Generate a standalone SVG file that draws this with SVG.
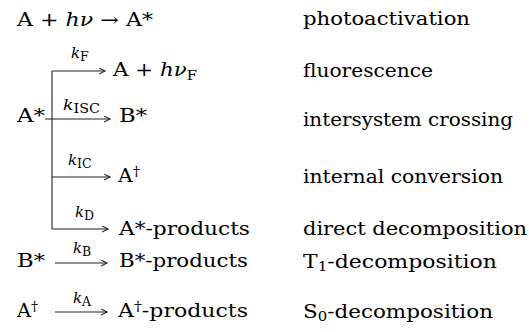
<svg xmlns="http://www.w3.org/2000/svg" width="529" height="332" viewBox="0 0 529 332">
<style>
text{font-family:"DejaVu Serif","Liberation Serif",serif;font-size:18px;fill:#000}
.k{font-size:15px}
.i{font-style:italic}
.sub{font-size:12.5px}
.dg{font-size:13px}
.ln{stroke:#222;stroke-width:1.1;fill:none}
</style>
<defs>
<marker id="ah" markerWidth="8" markerHeight="8" refX="6" refY="3" orient="auto" markerUnits="userSpaceOnUse">
<path d="M0,0 L6,3 L0,6" fill="none" stroke="#222" stroke-width="1.1"/>
</marker>
</defs>
<rect width="529" height="332" fill="#fff"/>
<g id="connectors">
<path class="ln" d="M52,71 V229"/>
<path class="ln" d="M52,71 H105" marker-end="url(#ah)"/>
<path class="ln" d="M45,119 H110" marker-end="url(#ah)"/>
<path class="ln" d="M52,177 H110" marker-end="url(#ah)"/>
<path class="ln" d="M52,229 H108" marker-end="url(#ah)"/>
<path class="ln" d="M55,263 H107" marker-end="url(#ah)"/>
<path class="ln" d="M55,312 H107" marker-end="url(#ah)"/>
</g>
<g id="labels">
<text class="k" x="71" y="58"><tspan class="i">k</tspan><tspan class="sub" dy="3">F</tspan></text>
<text class="k" x="63" y="110" textLength="37" lengthAdjust="spacingAndGlyphs"><tspan class="i">k</tspan><tspan class="sub" dy="3">ISC</tspan></text>
<text class="k" x="68" y="165"><tspan class="i">k</tspan><tspan class="sub" dy="3">IC</tspan></text>
<text class="k" x="75" y="217"><tspan class="i">k</tspan><tspan class="sub" dy="3">D</tspan></text>
<text class="k" x="73" y="253"><tspan class="i">k</tspan><tspan class="sub" dy="3">B</tspan></text>
<text class="k" x="73" y="303"><tspan class="i">k</tspan><tspan class="sub" dy="3">A</tspan></text>
</g>
<g id="n-photo"><text x="17" y="26" textLength="136" lengthAdjust="spacingAndGlyphs">A + <tspan class="i">hν</tspan> → A*</text></g>
<g id="n-Astar"><text x="17" y="122" textLength="28" lengthAdjust="spacingAndGlyphs">A*</text></g>
<g id="n-fluor-prod"><text x="113" y="76" textLength="84" lengthAdjust="spacingAndGlyphs">A + <tspan class="i">hν</tspan><tspan class="sub" dy="4">F</tspan></text></g>
<g id="n-Bstar"><text x="119" y="122" textLength="28" lengthAdjust="spacingAndGlyphs">B*</text></g>
<g id="n-Adagger"><text x="118" y="182" textLength="22" lengthAdjust="spacingAndGlyphs">A<tspan class="dg" dy="-6">†</tspan></text></g>
<g id="n-Aprod"><text x="119" y="235" textLength="131" lengthAdjust="spacingAndGlyphs">A*-products</text></g>
<g id="n-B"><text x="17" y="267" textLength="28" lengthAdjust="spacingAndGlyphs">B*</text></g>
<g id="n-Bprod"><text x="119" y="267" textLength="129" lengthAdjust="spacingAndGlyphs">B*-products</text></g>
<g id="n-A2"><text x="17" y="317" textLength="21" lengthAdjust="spacingAndGlyphs">A<tspan class="dg" dy="-6">†</tspan></text></g>
<g id="n-A2prod"><text x="118" y="317" textLength="130" lengthAdjust="spacingAndGlyphs">A<tspan class="dg" dy="-6">†</tspan><tspan dy="6">-products</tspan></text></g>
<g id="descriptions">
<text x="303" y="25" textLength="167" lengthAdjust="spacingAndGlyphs">photoactivation</text>
<text x="303" y="77" textLength="130" lengthAdjust="spacingAndGlyphs">fluorescence</text>
<text x="303" y="126" textLength="210" lengthAdjust="spacingAndGlyphs">intersystem crossing</text>
<text x="303" y="183" textLength="200" lengthAdjust="spacingAndGlyphs">internal conversion</text>
<text x="303" y="235" textLength="224" lengthAdjust="spacingAndGlyphs">direct decomposition</text>
<text x="303" y="268" textLength="194" lengthAdjust="spacingAndGlyphs">T<tspan class="sub" dy="3">1</tspan><tspan dy="-3">-decomposition</tspan></text>
<text x="303" y="318" textLength="190" lengthAdjust="spacingAndGlyphs">S<tspan class="sub" dy="3">0</tspan><tspan dy="-3">-decomposition</tspan></text>
</g>
</svg>
